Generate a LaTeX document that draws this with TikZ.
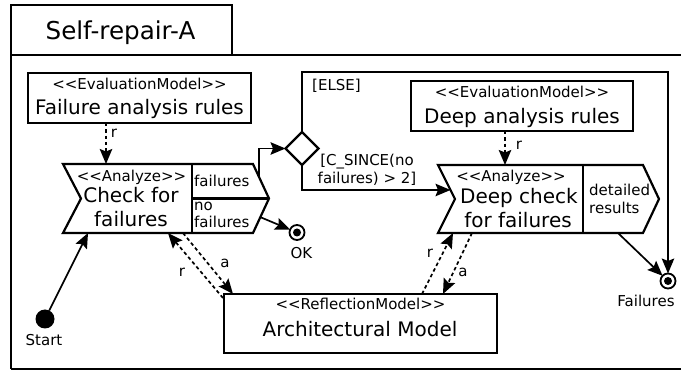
\documentclass[tikz,border=0pt]{standalone}
\usepackage{fontspec}
\setmainfont{DejaVu Sans}
\usetikzlibrary{arrows.meta,shapes.geometric}
\newcommand\fsTitle{\fontsize{24.6}{29}\selectfont}
\newcommand\fsBig{\fontsize{20}{24}\selectfont}
\newcommand\fsSmall{\fontsize{15}{18}\selectfont}
\newcommand\stO{<\kern0pt<}
\newcommand\stC{>\kern0pt>}
\begin{document}
\begin{tikzpicture}[x=1pt,y=-1pt,
  frame/.style={line width=2.2pt},
  box/.style={draw,line width=2.2pt,inner sep=0pt,outer sep=0pt},
  poly/.style={line width=2.2pt},
  arr/.style={line width=1.7pt,-{Stealth[length=15pt,width=12.5pt,inset=2.5pt]}},
  dsh/.style={arr,dash pattern=on 3.5pt off 2.8pt},
  tb/.style={inner sep=0pt,anchor=base},
  tbl/.style={inner sep=0pt,anchor=base west},
  lbl/.style={inner sep=0pt,font=\fsSmall},
  final/.style={circle,draw,line width=1.8pt,minimum size=15pt,inner sep=0pt,outer sep=0pt},
]
\useasboundingbox (0,0) rectangle (681,374);
\fill[white] (0,0) rectangle (681,374);

% frame
\draw[frame] (11,369) -- (11,5) -- (232,5) -- (232,55);
\draw[frame] (11,55) -- (684,55);
\draw[frame] (11,369) -- (684,369);
\node[tb,font=\fsTitle] (title) at (120.5,40) {Self-repair-A};

% Failure analysis rules
\node[box,minimum width=223,minimum height=50] (far) at (139.5,98) {};
\node[tb,font=\fsSmall] (fars) at (139.5,89.3) {\stO EvaluationModel\stC};
\node[tb,font=\fsBig] (farn) at (139.5,115) {Failure analysis rules};

% Deep analysis rules
\node[box,minimum width=222,minimum height=50] (dar) at (522,106) {};
\node[tb,font=\fsSmall] (dars) at (522,97.3) {\stO EvaluationModel\stC};
\node[tb,font=\fsBig] (darn) at (522,124) {Deep analysis rules};

% Check for failures
\draw[poly] (63,164) -- (253,164) -- (269,198.5) -- (253,233) -- (63,233) -- (81,198.5) -- cycle;
\draw[poly] (192,164) -- (192,233);
\draw[poly] (192,198.5) -- (269,198.5);
\node[tb,font=\fsSmall] (chks) at (131.5,181.7) {\stO Analyze\stC};
\node[tb,font=\fsBig] (chk1) at (131,203) {Check for};
\node[tb,font=\fsBig] (chk2) at (131,227) {failures};
\node[tbl,font=\fsSmall] (chkf) at (194,186.7) {failures};
\node[tbl,font=\fsSmall] (chkn1) at (194,211) {no};
\node[tbl,font=\fsSmall] (chkn2) at (194,228) {failures};
\coordinate (chkTop) at (106,164);
\coordinate (chkOut) at (259,177);
\coordinate (chkOK) at (260,217);
\coordinate (chkS) at (88,233);
\coordinate (chkR) at (168,233);
\coordinate (chkA) at (183,233);

% Deep check for failures
\draw[poly] (438,165) -- (643,165) -- (659,199) -- (643,233) -- (438,233) -- (455,199) -- cycle;
\draw[poly] (583,165) -- (583,233);
\node[tb,font=\fsSmall] (deeps) at (511,181.7) {\stO Analyze\stC};
\node[tb,font=\fsBig] (deep1) at (519,203.3) {Deep check};
\node[tb,font=\fsBig] (deep2) at (518,227.3) {for failures};
\node[tbl,font=\fsSmall] (det1) at (589,196) {detailed};
\node[tbl,font=\fsSmall] (det2) at (589,214) {results};
\coordinate (deepTop) at (505,165);
\coordinate (deepIn) at (450.5,190);
\coordinate (deepF) at (618,233);
\coordinate (deepR) at (453,233);
\coordinate (deepA) at (472,233);

% Architectural model
\node[box,minimum width=273,minimum height=59] (arch) at (360.5,323.5) {};
\node[tb,font=\fsSmall] (archs) at (360.5,310) {\stO ReflectionModel\stC};
\node[tb,font=\fsBig] (archn) at (360,336.7) {Architectural Model};
\coordinate (archR) at (223,298);
\coordinate (archA) at (233,294);
\coordinate (archR2) at (422,294);
\coordinate (archA2) at (443,294);

% decision
\node[diamond,draw,line width=2.2pt,minimum width=33,minimum height=33,inner sep=0pt,outer sep=0pt] (dia) at (302,148.5) {};
\coordinate (elseTR) at (668,72.3);

% start / finals
\node[circle,fill,minimum size=19pt,inner sep=0pt,outer sep=0pt] (start) at (45,319) {};
\node[tb,font=\fsSmall] (startl) at (44,345.7) {Start};
\node[final] (ok) at (297,232.5) {};
\fill (ok.center) circle (4);
\node[tb,font=\fsSmall] (okl) at (301.5,259) {OK};
\node[final] (fail) at (668,281) {};
\fill (fail.center) circle (4);
\node[tb,font=\fsSmall] (faill) at (646,306.7) {Failures};

% connectors
\draw[dsh] (far.south -| chkTop) -- (chkTop);
\node[lbl] (r1) at (114,133) {r};
\draw[dsh] (dar.south -| deepTop) -- (deepTop);
\node[lbl] (r2) at (519,145) {r};

\draw[arr] (chkOut) |- (dia.west);
\draw[arr] (dia.north) |- (elseTR) -- (fail.north);
\node[tbl,font=\fsSmall] (elsel) at (312,90.7) {[ELSE]};
\draw[arr] (dia.south) |- (deepIn);
\node[tb,font=\fsSmall] (cs1) at (367,166) {[C\_SINCE(no};
\node[tb,font=\fsSmall] (cs2) at (367,184) {failures) > 2]};

\draw[arr] (chkOK) -- (ok);
\draw[arr] (deepF) -- (fail);
\draw[arr] (start) -- (chkS);

\draw[dsh] (chkA) -- (archA);
\node[lbl] (a1) at (225,263) {a};
\draw[dsh] (archR) -- (chkR);
\node[lbl] (r3) at (182,272) {r};
\draw[dsh] (archR2) -- (deepR);
\node[lbl] (r4) at (430,253) {r};
\draw[dsh] (deepA) -- (archA2);
\node[lbl] (a2) at (463,272) {a};
\end{tikzpicture}
\end{document}
